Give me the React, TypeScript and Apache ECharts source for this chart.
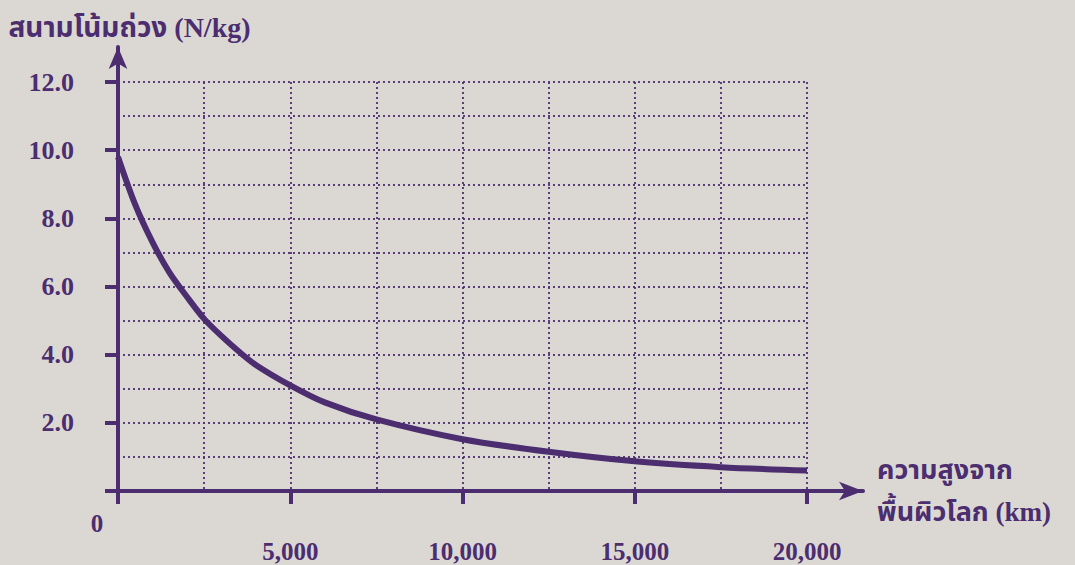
import React, { useEffect, useRef } from "react";
import * as echarts from "echarts";

// Altitude above Earth's surface (km) and gravitational field (N/kg)
const altitudeKm = [0, 500, 1000, 1500, 2000, 2500, 3000, 3500, 4000, 5000, 6000, 7500, 10000, 12500, 15000, 17500, 20000];
const fieldNkg = [9.8, 8.4, 7.3, 6.4, 5.7, 5.05, 4.55, 4.1, 3.7, 3.1, 2.6, 2.1, 1.52, 1.15, 0.87, 0.7, 0.6];

// Axis scales
const xMin = 0;
const xMax = 20000;
const xLabelStep = 5000;
const xGridDivisions = 2; // dotted line every 2,500 km
const yMin = 0;
const yMax = 12;
const yLabelStep = 2;
const yGridDivisions = 2; // dotted line every 1.0 N/kg
const originLabel = "0";

const yAxisTitle = "สนามโน้มถ่วง (N/kg)";
const xAxisTitleLines = ["ความสูงจาก", "พื้นผิวโลก (km)"];

export default function App() {
  const ref = useRef<HTMLDivElement>(null);

  useEffect(() => {
    if (!ref.current) return;
    const chart = echarts.init(ref.current, null, { renderer: "svg" });
    const C = "#4b2d70";
    const numFont = "'Liberation Serif', 'Times New Roman', serif";
    const thaiFont =
      "'Liberation Serif', 'Noto Sans Thai', 'Noto Serif Thai', 'Noto Looped Thai', Loma, Garuda, Norasi, sans-serif";
    const dotted = { color: C, width: 2, type: [2, 3], opacity: 0.9 };

    chart.setOption({
      animation: false,
      backgroundColor: "#dbd8d3",
      grid: [
        { left: 118, right: 268, top: 82, bottom: 74 },
        { left: 118, right: 212, top: 47, bottom: 74 },
      ],
      xAxis: [
        {
          type: "value",
          gridIndex: 0,
          min: xMin,
          max: xMax,
          interval: xLabelStep,
          axisLine: { show: false },
          axisTick: { show: true, length: 13, lineStyle: { color: C, width: 4 } },
          axisLabel: {
            margin: 48,
            color: C,
            fontFamily: numFont,
            fontWeight: "bold",
            fontSize: 25,
            formatter: (v: number) => (v === 0 ? "" : v.toLocaleString("en-US")),
          },
          splitLine: { show: true, lineStyle: dotted },
          minorTick: { show: false, splitNumber: xGridDivisions },
          minorSplitLine: { show: true, lineStyle: dotted },
        },
        {
          type: "value",
          gridIndex: 1,
          min: 0,
          max: 1,
          axisLine: {
            show: true,
            symbol: ["none", "arrow"],
            symbolSize: [14, 24],
            lineStyle: { color: C, width: 4 },
          },
          axisTick: { show: false },
          axisLabel: { show: false },
          splitLine: { show: false },
          name: xAxisTitleLines.join("\n"),
          nameLocation: "end",
          nameGap: 14,
          nameTextStyle: {
            color: C,
            fontFamily: thaiFont,
            fontWeight: "bold",
            fontSize: 27,
            lineHeight: 42,
            align: "left",
            verticalAlign: "middle",
            padding: [0, 0, 8, 0],
          },
        },
      ],
      yAxis: [
        {
          type: "value",
          gridIndex: 0,
          min: yMin,
          max: yMax,
          interval: yLabelStep,
          axisLine: { show: false },
          axisTick: { show: true, length: 13, lineStyle: { color: C, width: 4 } },
          axisLabel: {
            margin: 44,
            color: C,
            fontFamily: numFont,
            fontWeight: "bold",
            fontSize: 26,
            formatter: (v: number) => (v === 0 ? "" : v.toFixed(1)),
          },
          splitLine: { show: true, lineStyle: dotted },
          minorTick: { show: false, splitNumber: yGridDivisions },
          minorSplitLine: { show: true, lineStyle: dotted },
        },
        {
          type: "value",
          gridIndex: 1,
          min: 0,
          max: 1,
          axisLine: {
            show: true,
            symbol: ["none", "arrow"],
            symbolSize: [14, 22],
            lineStyle: { color: C, width: 4 },
          },
          axisTick: { show: false },
          axisLabel: { show: false },
          splitLine: { show: false },
          name: yAxisTitle,
          nameLocation: "end",
          nameGap: 20,
          nameTextStyle: {
            color: C,
            fontFamily: thaiFont,
            fontWeight: "bold",
            fontSize: 28,
            align: "center",
            verticalAlign: "middle",
            padding: [0, 0, 0, 23],
          },
        },
      ],
      series: [
        {
          type: "line",
          xAxisIndex: 0,
          yAxisIndex: 0,
          data: altitudeKm.map((x, i) => [x, fieldNkg[i]]),
          smooth: 0.3,
          showSymbol: false,
          symbol: "none",
          lineStyle: { color: C, width: 6, cap: "butt" },
          z: 5,
        },
      ],
    });

    const origin = chart.convertToPixel({ gridIndex: 0 }, [xMin, yMin]) as number[];
    chart.setOption({
      graphic: [
        {
          type: "text",
          x: origin[0] - 21,
          y: origin[1] + 32,
          style: {
            text: originLabel,
            fill: C,
            font: `bold 25px ${numFont}`,
            align: "center",
            verticalAlign: "middle",
          },
        },
      ],
    });

    return () => chart.dispose();
  }, []);

  return (
    <div
      ref={ref}
      style={{ position: "fixed", left: 0, top: 0, width: 1075, height: 565 }}
    />
  );
}
